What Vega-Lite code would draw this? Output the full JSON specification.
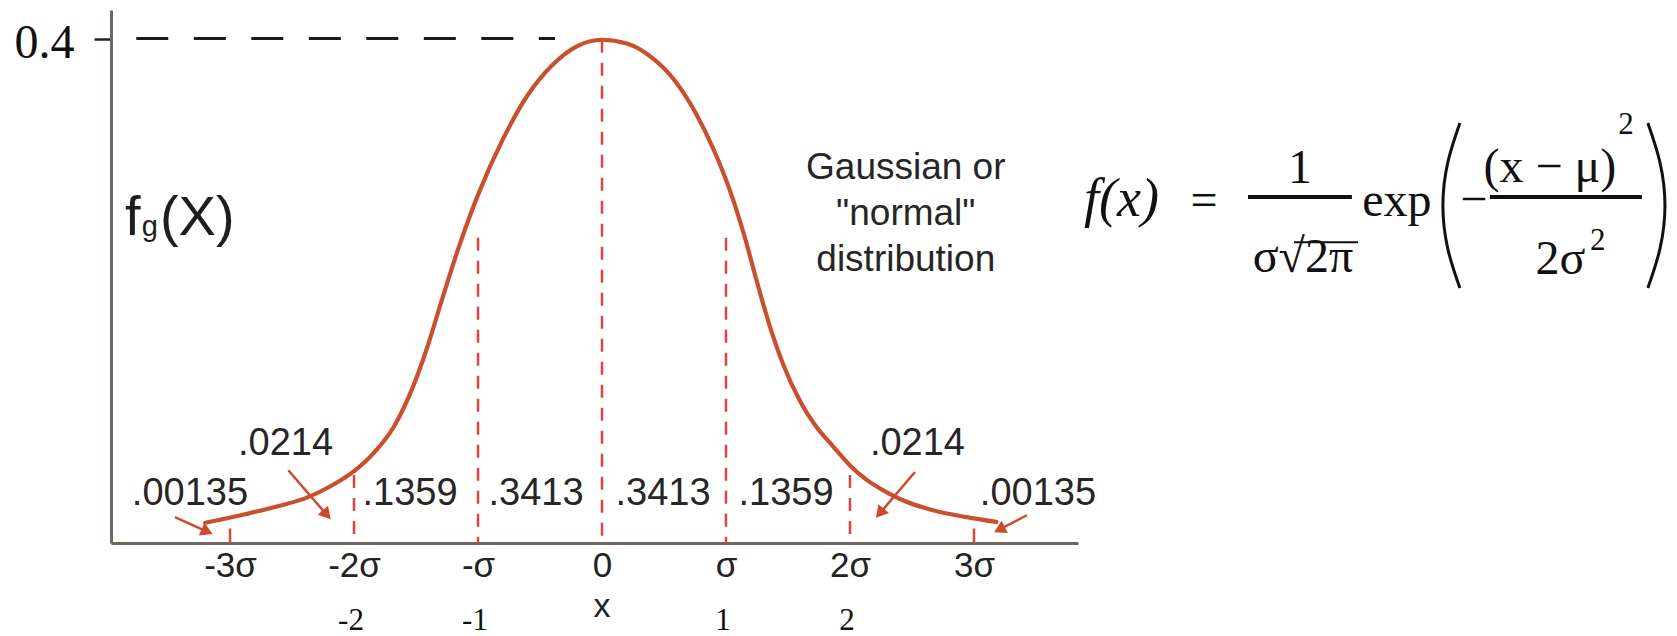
{
  "$schema": "https://vega.github.io/schema/vega-lite/v6.json",
  "width": 967,
  "height": 533,
  "autosize": "none",
  "padding": {"left": 111, "top": 10, "right": 599, "bottom": 93},
  "background": "white",
  "config": {"view": {"stroke": null}, "axis": {"grid": false}},
  "datasets": {
    "curve": [
      {"x": -3.2, "y": 0.016}, {"x": -2.87, "y": 0.023}, {"x": -2.6, "y": 0.0295},
      {"x": -2.38, "y": 0.036}, {"x": -2.19, "y": 0.045}, {"x": -2.0, "y": 0.057},
      {"x": -1.84, "y": 0.0715}, {"x": -1.68, "y": 0.092}, {"x": -1.52, "y": 0.125},
      {"x": -1.4, "y": 0.158}, {"x": -1.3, "y": 0.19}, {"x": -1.15, "y": 0.236},
      {"x": -1.0, "y": 0.276}, {"x": -0.8, "y": 0.32}, {"x": -0.6, "y": 0.355},
      {"x": -0.4, "y": 0.379}, {"x": -0.2, "y": 0.394}, {"x": 0.0, "y": 0.399},
      {"x": 0.2, "y": 0.396}, {"x": 0.4, "y": 0.385}, {"x": 0.6, "y": 0.365},
      {"x": 0.75, "y": 0.342}, {"x": 0.9, "y": 0.312}, {"x": 1.03, "y": 0.28},
      {"x": 1.15, "y": 0.243}, {"x": 1.25, "y": 0.207}, {"x": 1.35, "y": 0.173},
      {"x": 1.46, "y": 0.142}, {"x": 1.6, "y": 0.112}, {"x": 1.73, "y": 0.092},
      {"x": 1.865, "y": 0.0765}, {"x": 2.0, "y": 0.0615}, {"x": 2.135, "y": 0.05},
      {"x": 2.3, "y": 0.04}, {"x": 2.46, "y": 0.0325}, {"x": 2.67, "y": 0.026},
      {"x": 2.94, "y": 0.0205}, {"x": 3.18, "y": 0.0167}
    ],
    "drops": [
      {"x": -2, "y": 0.054}, {"x": -1, "y": 0.242}, {"x": 0, "y": 0.399},
      {"x": 1, "y": 0.242}, {"x": 2, "y": 0.054}
    ],
    "ends": [{"x": -3, "y": 0.0115}, {"x": 3, "y": 0.0115}],
    "peakline": [{"x": -3.756, "x2": -0.379, "y": 0.4}],
    "areas": [
      {"x": -3.323, "y": 0.0299, "label": ".00135"},
      {"x": -2.552, "y": 0.0696, "label": ".0214"},
      {"x": -1.548, "y": 0.0299, "label": ".1359"},
      {"x": -0.532, "y": 0.0299, "label": ".3413"},
      {"x": 0.492, "y": 0.0299, "label": ".3413"},
      {"x": 1.484, "y": 0.0299, "label": ".1359"},
      {"x": 2.544, "y": 0.0696, "label": ".0214"},
      {"x": 3.516, "y": 0.0299, "label": ".00135"}
    ],
    "shafts": [
      {"x": -3.444, "y": 0.0206, "x2": -3.185, "y2": 0.0091},
      {"x": -2.53, "y": 0.0577, "x2": -2.22, "y2": 0.0224},
      {"x": 2.524, "y": 0.0563, "x2": 2.241, "y2": 0.0236},
      {"x": 3.427, "y": 0.022, "x2": 3.205, "y2": 0.0107}
    ],
    "below": [
      {"x": -2, "y": -0.0693, "label": "-2"},
      {"x": -1, "y": -0.0693, "label": "-1"},
      {"x": 1, "y": -0.0693, "label": "1"},
      {"x": 2, "y": -0.0693, "label": "2"}
    ],
    "gauss": [
      {"x": 2.45, "y": 0.289, "label": "Gaussian or"},
      {"x": 2.45, "y": 0.2525, "label": "\"normal\""},
      {"x": 2.45, "y": 0.216, "label": "distribution"}
    ],
    "fbig": [
      {"x": -3.847, "y": 0.2441, "label": "f"},
      {"x": -3.565, "y": 0.2441, "label": "(X)"}
    ],
    "fsub": [{"x": -3.712, "y": 0.2433, "label": "g"}],
    "fit": [{"x": 3.887, "y": 0.2592, "label": "f(x)"}],
    "fnorm": [
      {"x": 4.855, "y": 0.2592, "label": "="},
      {"x": 5.629, "y": 0.2854, "label": "1"},
      {"x": 5.653, "y": 0.2148, "label": "σ√2π"},
      {"x": 6.411, "y": 0.2592, "label": "exp"},
      {"x": 7.032, "y": 0.26, "label": "−"},
      {"x": 7.645, "y": 0.286, "label": "(x − μ)"},
      {"x": 7.73, "y": 0.213, "label": "2σ"}
    ],
    "fsup": [
      {"x": 8.258, "y": 0.3241, "label": "2"},
      {"x": 8.03, "y": 0.2323, "label": "2"}
    ],
    "fbars": [
      {"x": 5.21, "x2": 6.048, "y": 0.2744},
      {"x": 7.161, "x2": 8.387, "y": 0.2744}
    ],
    "froot": [{"x": 5.581, "x2": 6.097, "y": 0.2384}],
    "parens": [
      {"x": 6.919, "y": 0.333, "side": "left"},
      {"x": 6.822, "y": 0.302, "side": "left"},
      {"x": 6.782, "y": 0.2675, "side": "left"},
      {"x": 6.822, "y": 0.233, "side": "left"},
      {"x": 6.919, "y": 0.2021, "side": "left"},
      {"x": 8.435, "y": 0.333, "side": "right"},
      {"x": 8.532, "y": 0.302, "side": "right"},
      {"x": 8.573, "y": 0.2675, "side": "right"},
      {"x": 8.532, "y": 0.233, "side": "right"},
      {"x": 8.435, "y": 0.2021, "side": "right"}
    ]
  },
  "encoding": {
    "x": {
      "field": "x", "type": "quantitative",
      "scale": {"domain": [-3.96, 3.839], "nice": false, "zero": false},
      "axis": {
        "values": [-3, -2, -1, 0, 1, 2, 3],
        "labelExpr": "datum.value === 0 ? '0' : datum.value === 1 ? 'σ' : datum.value === -1 ? '-σ' : datum.value + 'σ'",
        "ticks": false, "tickSize": 0, "labelPadding": 33, "labelBaseline": "alphabetic",
        "labelFont": "Liberation Sans", "labelFontSize": 35, "labelColor": "#222222",
        "domainColor": "#6e675e", "domainWidth": 3, "grid": false, "title": null,
        "labelFlush": false, "labelOverlap": false
      }
    },
    "y": {
      "field": "y", "type": "quantitative",
      "scale": {"domain": [0, 0.4226], "nice": false, "zero": false},
      "axis": {
        "values": [0.4], "format": ".1f", "tickSize": 17, "tickWidth": 2.5, "tickColor": "#222222",
        "labelPadding": 20, "labelFont": "Liberation Serif", "labelFontSize": 48, "labelColor": "#111111",
        "labelBaseline": "middle", "labelOffset": 5,
        "domainColor": "#6e675e", "domainWidth": 3, "grid": false, "title": null
      }
    }
  },
  "layer": [
    {
      "data": {"name": "peakline"},
      "mark": {"type": "rule", "color": "#1a1a1a", "strokeWidth": 3, "strokeDash": [32, 25.5]},
      "encoding": {"x2": {"field": "x2"}}
    },
    {
      "data": {"name": "drops"},
      "mark": {"type": "rule", "color": "#d8463f", "strokeWidth": 2.5, "strokeDash": [13, 10]},
      "encoding": {"y2": {"datum": 0}}
    },
    {
      "data": {"name": "ends"},
      "mark": {"type": "rule", "color": "#d8463f", "strokeWidth": 2.5},
      "encoding": {"y2": {"datum": 0}}
    },
    {
      "data": {"name": "curve"},
      "mark": {"type": "line", "color": "#c9502d", "strokeWidth": 4.2, "interpolate": "monotone", "strokeCap": "round"}
    },
    {
      "data": {"name": "shafts"},
      "mark": {"type": "rule", "color": "#cc4a2a", "strokeWidth": 2.5},
      "encoding": {"x2": {"field": "x2"}, "y2": {"field": "y2"}}
    },
    {
      "data": {"values": [{"x": -3.185, "y": 0.0091}]},
      "mark": {"type": "point", "shape": "triangle-right", "filled": true, "size": 190, "color": "#cc4a2a", "opacity": 1, "angle": 24}
    },
    {
      "data": {"values": [{"x": -2.22, "y": 0.0224}]},
      "mark": {"type": "point", "shape": "triangle-right", "filled": true, "size": 190, "color": "#cc4a2a", "opacity": 1, "angle": 49}
    },
    {
      "data": {"values": [{"x": 2.241, "y": 0.0236}]},
      "mark": {"type": "point", "shape": "triangle-right", "filled": true, "size": 190, "color": "#cc4a2a", "opacity": 1, "angle": 130}
    },
    {
      "data": {"values": [{"x": 3.205, "y": 0.0107}]},
      "mark": {"type": "point", "shape": "triangle-right", "filled": true, "size": 190, "color": "#cc4a2a", "opacity": 1, "angle": 153}
    },
    {
      "data": {"name": "areas"},
      "mark": {"type": "text", "font": "Liberation Sans", "fontSize": 38, "color": "#262626", "align": "center", "baseline": "alphabetic"},
      "encoding": {"text": {"field": "label"}}
    },
    {
      "data": {"name": "below"},
      "mark": {"type": "text", "font": "Liberation Serif", "fontSize": 31, "color": "#111111", "align": "center", "baseline": "alphabetic", "dx": -3},
      "encoding": {"text": {"field": "label"}}
    },
    {
      "data": {"values": [{"x": 0, "y": -0.059, "label": "x"}]},
      "mark": {"type": "text", "font": "Liberation Sans", "fontSize": 34, "color": "#222222", "align": "center", "baseline": "alphabetic"},
      "encoding": {"text": {"field": "label"}}
    },
    {
      "data": {"name": "gauss"},
      "mark": {"type": "text", "font": "Liberation Sans", "fontSize": 37, "color": "#262626", "align": "center", "baseline": "alphabetic"},
      "encoding": {"text": {"field": "label"}}
    },
    {
      "data": {"name": "fbig"},
      "mark": {"type": "text", "font": "Liberation Sans", "fontSize": 56, "color": "#1e1e1e", "align": "left", "baseline": "alphabetic"},
      "encoding": {"text": {"field": "label"}}
    },
    {
      "data": {"name": "fsub"},
      "mark": {"type": "text", "font": "Liberation Sans", "fontSize": 29, "color": "#1e1e1e", "align": "left", "baseline": "alphabetic"},
      "encoding": {"text": {"field": "label"}}
    },
    {
      "data": {"name": "fit"},
      "mark": {"type": "text", "font": "Liberation Serif", "fontStyle": "italic", "fontSize": 54, "color": "#111111", "align": "left", "baseline": "alphabetic"},
      "encoding": {"text": {"field": "label"}}
    },
    {
      "data": {"name": "fnorm"},
      "mark": {"type": "text", "font": "Liberation Serif", "fontSize": 48, "color": "#111111", "align": "center", "baseline": "alphabetic"},
      "encoding": {"text": {"field": "label"}}
    },
    {
      "data": {"name": "fsup"},
      "mark": {"type": "text", "font": "Liberation Serif", "fontSize": 31, "color": "#111111", "align": "center", "baseline": "alphabetic"},
      "encoding": {"text": {"field": "label"}}
    },
    {
      "data": {"name": "fbars"},
      "mark": {"type": "rule", "color": "#111111", "strokeWidth": 4},
      "encoding": {"x2": {"field": "x2"}}
    },
    {
      "data": {"name": "froot"},
      "mark": {"type": "rule", "color": "#111111", "strokeWidth": 2},
      "encoding": {"x2": {"field": "x2"}}
    },
    {
      "data": {"name": "parens"},
      "mark": {"type": "line", "color": "#111111", "strokeWidth": 3, "interpolate": "natural"},
      "encoding": {"detail": {"field": "side"}, "order": {"field": "y", "type": "quantitative"}}
    }
  ]
}
